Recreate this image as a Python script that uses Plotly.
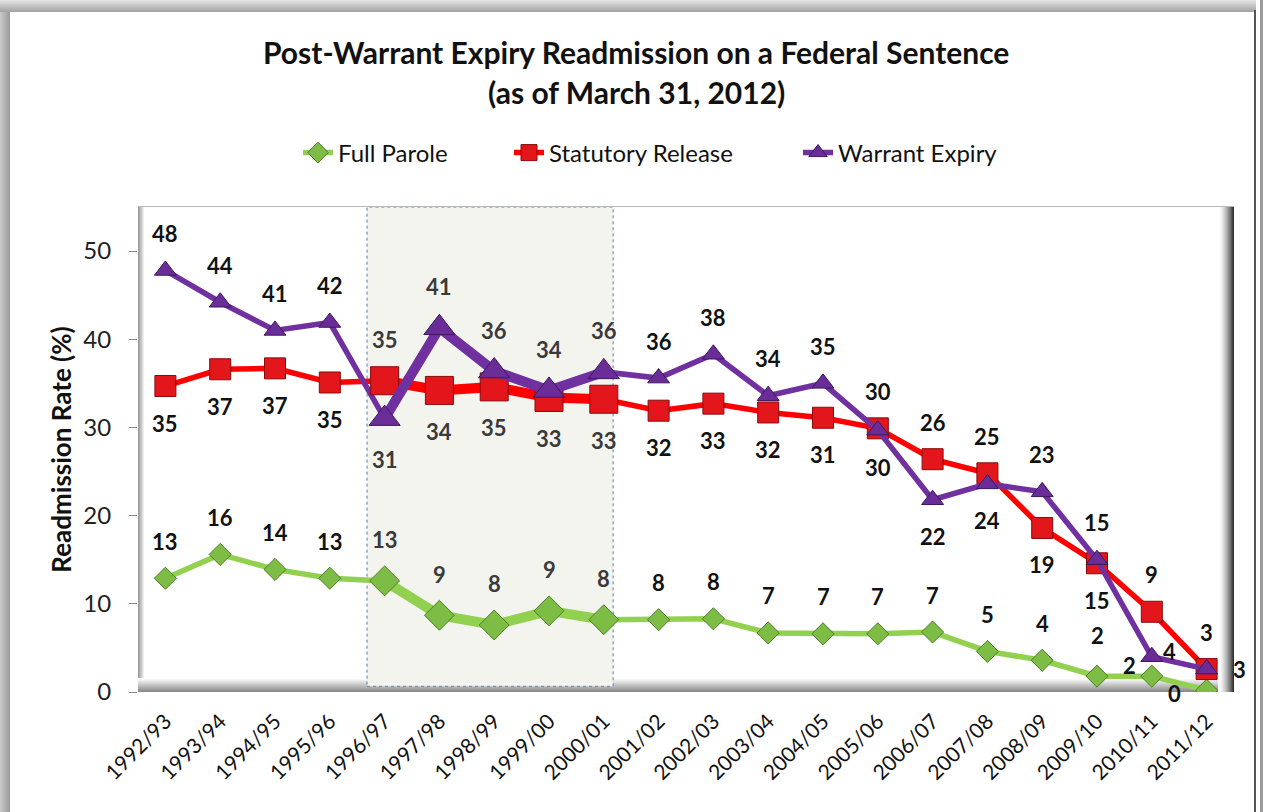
import plotly.graph_objects as go

# ---- data -------------------------------------------------------------
seasons = ["1992/93", "1993/94", "1994/95", "1995/96", "1996/97", "1997/98",
           "1998/99", "1999/00", "2000/01", "2001/02", "2002/03", "2003/04",
           "2004/05", "2005/06", "2006/07", "2007/08", "2008/09", "2009/10",
           "2010/11", "2011/12"]

full_parole = [12.9, 15.6, 13.9, 12.9, 12.6, 8.7, 7.6, 9.2, 8.2, 8.2,
               8.3, 6.7, 6.6, 6.6, 6.8, 4.6, 3.6, 1.8, 1.8, 0.2]
statutory_release = [34.7, 36.6, 36.7, 35.1, 35.3, 34.2, 34.6, 33.4, 33.2, 31.9,
                     32.7, 31.7, 31.1, 29.9, 26.4, 24.8, 18.6, 14.6, 9.1, 2.6]
warrant_expiry = [47.8, 44.2, 41.0, 41.9, 31.0, 41.3, 36.4, 34.2, 36.3, 35.6,
                  38.3, 33.6, 35.0, 29.7, 21.8, 23.6, 22.7, 15.0, 4.0, 2.6]

y_ticks = [0, 10, 20, 30, 40, 50]

# highlighted period (1996/97 - 2000/01)
band_first, band_last = 4, 8

# where each value label sits relative to its marker
fp_place = ["a"] * 18 + ["l", "bl"]
sr_place = ["b", "b", "b", "b", "a", "b", "b", "b", "b", "b",
            "b", "b", "b", "a", "a", "a", "b", "a", "a", "a"]
we_place = ["a", "a", "a", "a", "b", "a", "a", "a", "a", "a",
            "a", "a", "a", "b", "b", "b", "a", "b", "r", "r"]

# ---- page geometry (pixels) --------------------------------------------
W, H = 1264, 812
L, R, T, B = 138, 1234, 207, 692
PW, PH = R - L, B - T


def xp(px):
    return (px - L) / PW


def yp(py):
    return (B - py) / PH


FONT = "Lato, 'Open Sans', sans-serif"

series = [
    dict(name="Full Parole", y=full_parole, place=fp_place, line="#92d050",
         fill="#7dbd45", edge="#4e7d27", symbol="diamond", size=17, bsize=23,
         legend="legend"),
    dict(name="Statutory Release", y=statutory_release, place=sr_place, line="#ff0000",
         fill="#e3161b", edge="#8a0a0c", symbol="square", size=21, bsize=28,
         legend="legend2"),
    dict(name="Warrant Expiry", y=warrant_expiry, place=we_place, line="#7030a0",
         fill="#6a2d98", edge="#3d1760", symbol="triangle-up", size=19, bsize=27,
         legend="legend3"),
]

fig = go.Figure()

# regular lines and markers
for s in series:
    fig.add_trace(go.Scatter(
        x=seasons, y=s["y"], name=s["name"], mode="lines+markers",
        line=dict(color=s["line"], width=5.5),
        marker=dict(symbol=s["symbol"], size=s["size"], color=s["fill"],
                    line=dict(color=s["edge"], width=1)),
        legend=s["legend"], hoverinfo="x+y+name",
    ))

# emphasised segment inside the highlighted period
for s in series:
    fig.add_trace(go.Scatter(
        x=seasons[band_first:band_last + 1], y=s["y"][band_first:band_last + 1],
        mode="lines+markers", showlegend=False,
        line=dict(color=s["line"], width=10),
        marker=dict(symbol=s["symbol"], size=s["bsize"], color=s["fill"],
                    line=dict(color=s["edge"], width=1)),
        hoverinfo="skip",
    ))

# value labels
annotations = []
for s in series:
    for i, (cat, v, where) in enumerate(zip(seasons, s["y"], s["place"])):
        in_band = band_first <= i <= band_last
        gap = 41 if (in_band or i == 17) else 37
        dx, dy = {"a": (0, gap), "b": (0, -gap), "r": (18, 5),
                  "l": (-22, 11), "bl": (-32, -3)}[where]
        if where == "r" and i == 19:
            dx, dy = 33, 0
        annotations.append(dict(
            x=cat, y=v, xref="x", yref="y", text=f"<b>{v:.0f}</b>", showarrow=False,
            xshift=dx, yshift=dy,
            font=dict(family=FONT, size=22, color="#3a3a3a" if in_band else "#111111"),
        ))

# chart title
title_lines = ["Post-Warrant Expiry Readmission on a Federal Sentence",
               "(as of March 31, 2012)"]
for line, ypix in zip(title_lines, (52, 92)):
    annotations.append(dict(x=xp(636), y=yp(ypix), xref="paper", yref="paper",
                            xanchor="center", yanchor="middle", showarrow=False,
                            text=f"<b>{line}</b>",
                            font=dict(family=FONT, size=30, color="#111111")))

shapes = []

# shaded period behind the series
shapes.append(dict(type="rect", xref="x", yref="y", x0=3.68, x1=8.17, y0=0.65, y1=55,
                   fillcolor="#f4f4ef", line=dict(color="#5b7db3", width=1, dash="dot"),
                   layer="below"))


def strip(x0, x1, y0, y1, color, layer="below"):
    shapes.append(dict(type="rect", xref="paper", yref="paper",
                       x0=xp(x0), x1=xp(x1), y0=yp(y1), y1=yp(y0),
                       fillcolor=color, line=dict(width=0), layer=layer))


def mix(c0, c1, t):
    a = [int(c0[k:k + 2], 16) for k in (1, 3, 5)]
    b = [int(c1[k:k + 2], 16) for k in (1, 3, 5)]
    return "#" + "".join(f"{round(p + (q - p) * t):02x}" for p, q in zip(a, b))


# plot frame: left wall, floor, right wall and top edge
n = 7
for k in range(n):
    strip(L + k, L + k + 1, T, B, mix("#9a9a9a", "#ffffff", k / (n - 1)))
n = 14
for k in range(n):
    strip(L, R, B - n + k, B - n + k + 1, mix("#ffffff", "#8a8a8a", k / (n - 1)))
n = 16
for k in range(n):
    strip(R - n + k, R - n + k + 1, T, B, mix("#ffffff", "#2e2e2e", (k / (n - 1)) ** 1.6))
strip(L, R, T - 1, T, "#b8b8b8")

# outer border of the chart
for k in range(10):
    strip(k, k + 1, 0, H, mix("#c8c8c8", "#9c9c9c", k / 9), layer="above")
for k in range(12):
    strip(0, W, k, k + 1, mix("#e2e2e2", "#a4a4a4", k / 11), layer="above")
strip(1254, 1256, 10, H, "#555555", layer="above")
strip(1256, 1264, 0, H, "#ffffff", layer="above")
strip(1260, 1263, 0, H, "#9c9c9c", layer="above")

legend_common = dict(orientation="h", yanchor="middle", xanchor="left",
                     bgcolor="rgba(0,0,0,0)", font=dict(family=FONT, size=24, color="#111111"),
                     itemsizing="trace")

fig.update_layout(
    width=W, height=H,
    margin=dict(l=L, r=W - R, t=T, b=H - B, pad=0),
    paper_bgcolor="#ffffff", plot_bgcolor="#ffffff",
    showlegend=True,
    legend=dict(x=xp(298), y=yp(153), **legend_common),
    legend2=dict(x=xp(509), y=yp(153), **legend_common),
    legend3=dict(x=xp(798), y=yp(153), **legend_common),
    xaxis=dict(type="category", categoryorder="array", categoryarray=seasons,
               range=[-0.5, len(seasons) - 0.5], showgrid=False, zeroline=False,
               showline=False, ticks="", tickangle=-45, ticklabelstandoff=12,
               tickfont=dict(family=FONT, size=21, color="#111111")),
    yaxis=dict(range=[0, 55], tickvals=y_ticks, showgrid=False, zeroline=False,
               showline=False, ticks="outside", ticklen=8, tickcolor="#8c8c8c",
               ticklabelstandoff=13,
               tickfont=dict(family=FONT, size=24, color="#222222"),
               title=dict(text="<b>Readmission Rate (%)</b>", standoff=4,
                          font=dict(family=FONT, size=26, color="#111111"))),
    annotations=annotations,
    shapes=shapes,
    hovermode="closest",
)

fig.write_html("out.html")
